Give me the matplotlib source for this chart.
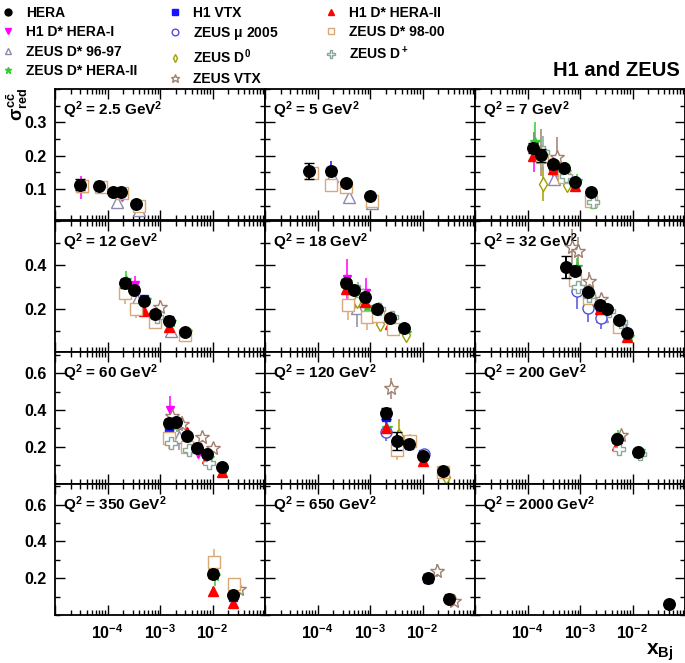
import numpy as np
import matplotlib.pyplot as plt
from matplotlib.lines import Line2D
from matplotlib.ticker import FixedLocator, LogLocator, MultipleLocator, FuncFormatter, NullFormatter

plt.rcParams['font.family'] = ['Liberation Sans', 'DejaVu Sans']
plt.rcParams['font.weight'] = 'bold'
plt.rcParams['mathtext.fontset'] = 'custom'
plt.rcParams['mathtext.rm'] = 'Liberation Sans:bold'
plt.rcParams['mathtext.it'] = 'Liberation Sans:bold'
plt.rcParams['mathtext.bf'] = 'Liberation Sans:bold'
plt.rcParams['mathtext.sf'] = 'Liberation Sans:bold'

# Q2 bins (one panel each) and their labels
q2_bins = [2.5, 5, 7, 12, 18, 32, 60, 120, 200, 350, 650, 2000]
q2_labels = ['2.5', '5', '7', '12', '18', '32', '60', '120', '200', '350', '650', '2000']

# rows: (Q2, x, sigma_red, error)
hera = [
    (2.5, 3e-5, 0.113, 0.017), (2.5, 7e-5, 0.110, 0.008), (2.5, 1.3e-4, 0.092, 0.006),
    (2.5, 1.8e-4, 0.092, 0.006), (2.5, 3.5e-4, 0.055, 0.006),
    (5, 7e-5, 0.153, 0.024), (5, 1.8e-4, 0.153, 0.010), (5, 3.5e-4, 0.117, 0.007), (5, 1e-3, 0.079, 0.005),
    (7, 1.3e-4, 0.223, 0.015), (7, 1.8e-4, 0.201, 0.019), (7, 3e-4, 0.174, 0.010),
    (7, 5e-4, 0.162, 0.009), (7, 8e-4, 0.121, 0.007), (7, 1.6e-3, 0.090, 0.006),
    (12, 2.2e-4, 0.315, 0.020), (12, 3.2e-4, 0.287, 0.015), (12, 5e-4, 0.238, 0.012),
    (12, 8e-4, 0.179, 0.010), (12, 1.5e-3, 0.145, 0.008), (12, 3e-3, 0.097, 0.006),
    (18, 3.5e-4, 0.317, 0.020), (18, 5e-4, 0.286, 0.015), (18, 8e-4, 0.253, 0.012),
    (18, 1.35e-3, 0.198, 0.010), (18, 2.4e-3, 0.161, 0.008), (18, 4.5e-3, 0.112, 0.007),
    (32, 5.5e-4, 0.388, 0.050), (32, 8e-4, 0.373, 0.020), (32, 1.4e-3, 0.277, 0.015),
    (32, 2.4e-3, 0.217, 0.012), (32, 3.2e-3, 0.198, 0.011), (32, 5.5e-3, 0.151, 0.009), (32, 8e-3, 0.091, 0.007),
    (60, 1.5e-3, 0.330, 0.020), (60, 2e-3, 0.333, 0.020), (60, 3.2e-3, 0.260, 0.015),
    (60, 5e-3, 0.193, 0.012), (60, 8e-3, 0.158, 0.010), (60, 1.5e-2, 0.091, 0.007),
    (120, 2e-3, 0.381, 0.030), (120, 3.2e-3, 0.231, 0.048), (120, 5.5e-3, 0.215, 0.015),
    (120, 1e-2, 0.151, 0.010), (120, 2.5e-2, 0.069, 0.006),
    (200, 5e-3, 0.240, 0.020), (200, 1.3e-2, 0.171, 0.012),
    (350, 1e-2, 0.223, 0.020), (350, 2.5e-2, 0.108, 0.010),
    (650, 1.3e-2, 0.202, 0.020), (650, 3.2e-2, 0.088, 0.008),
    (2000, 5e-2, 0.059, 0.008),
]
h1_dstar_hera1 = [
    (2.5, 3.1e-5, 0.105, 0.035), (2.5, 7.3e-5, 0.103, 0.010), (2.5, 1.9e-4, 0.075, 0.012),
    (7, 1.35e-4, 0.210, 0.060), (7, 3.1e-4, 0.150, 0.020), (7, 8.3e-4, 0.105, 0.010),
    (12, 3.3e-4, 0.310, 0.040), (12, 8.3e-4, 0.160, 0.020),
    (18, 3.6e-4, 0.335, 0.090), (18, 8.3e-4, 0.270, 0.070),
    (60, 1.55e-3, 0.400, 0.077), (60, 5.2e-3, 0.160, 0.020),
]
zeus_dstar_9697 = [
    (2.5, 3.2e-5, 0.110, 0.020), (2.5, 1.5e-4, 0.060, 0.010), (2.5, 4e-4, 0.038, 0.008),
    (5, 1.9e-4, 0.140, 0.020), (5, 3.9e-4, 0.075, 0.012), (5, 1.1e-3, 0.058, 0.010),
    (7, 3.2e-4, 0.130, 0.020),
    (12, 3.6e-4, 0.240, 0.040), (12, 1.65e-3, 0.100, 0.015),
    (18, 5.6e-4, 0.206, 0.090),
    (32, 2.6e-3, 0.170, 0.040),
    (60, 2.3e-3, 0.253, 0.070),
    (120, 3.5e-3, 0.230, 0.030),
]
zeus_dstar_hera2 = [
    (7, 1.4e-4, 0.240, 0.060), (7, 5.5e-4, 0.150, 0.030), (7, 8.6e-4, 0.125, 0.020), (7, 1.8e-3, 0.055, 0.015),
    (12, 2.3e-4, 0.330, 0.040), (12, 5.5e-4, 0.240, 0.020), (12, 8.6e-4, 0.160, 0.020),
    (12, 1.6e-3, 0.140, 0.015), (12, 3.2e-3, 0.095, 0.012),
    (18, 3.7e-4, 0.320, 0.030), (18, 8.6e-4, 0.210, 0.020), (18, 1.45e-3, 0.200, 0.020),
    (18, 2.6e-3, 0.160, 0.015), (18, 4.8e-3, 0.090, 0.012),
    (32, 8.6e-4, 0.390, 0.040), (32, 1.5e-3, 0.270, 0.030), (32, 3.4e-3, 0.200, 0.020),
    (32, 5.8e-3, 0.150, 0.015), (32, 8.5e-3, 0.075, 0.010),
    (60, 2.1e-3, 0.320, 0.040), (60, 3.4e-3, 0.250, 0.020), (60, 5.3e-3, 0.190, 0.015),
    (60, 8.5e-3, 0.140, 0.015), (60, 1.6e-2, 0.080, 0.010),
    (120, 2.1e-3, 0.300, 0.040), (120, 3.4e-3, 0.240, 0.050), (120, 1.05e-2, 0.145, 0.020),
    (200, 5.3e-3, 0.250, 0.040), (200, 1.4e-2, 0.175, 0.030),
    (350, 1.1e-2, 0.210, 0.050), (350, 2.7e-2, 0.110, 0.020),
]
h1_vtx = [
    (5, 1.8e-4, 0.155, 0.030),
    (7, 3e-4, 0.170, 0.020), (7, 5e-4, 0.160, 0.020),
    (12, 5e-4, 0.245, 0.020), (12, 1.5e-3, 0.150, 0.015),
    (18, 8e-4, 0.250, 0.020), (18, 1.35e-3, 0.200, 0.020), (18, 2.4e-3, 0.160, 0.020),
    (32, 2.4e-3, 0.210, 0.020), (32, 8e-3, 0.090, 0.010),
    (60, 1.5e-3, 0.300, 0.030), (60, 2e-3, 0.330, 0.030), (60, 5e-3, 0.200, 0.020), (60, 8e-3, 0.160, 0.015),
    (120, 2e-3, 0.360, 0.030), (120, 5.5e-3, 0.210, 0.020), (120, 1e-2, 0.160, 0.020),
    (200, 5e-3, 0.240, 0.020), (200, 1.3e-2, 0.165, 0.015),
    (350, 1e-2, 0.240, 0.020), (350, 2.5e-2, 0.100, 0.012),
    (650, 1.3e-2, 0.195, 0.020), (650, 3.2e-2, 0.090, 0.010),
    (2000, 5e-2, 0.060, 0.010),
]
zeus_mu_2005 = [
    (32, 8.6e-4, 0.280, 0.080), (32, 1.4e-3, 0.203, 0.060), (32, 2.5e-3, 0.160, 0.050), (32, 6e-3, 0.120, 0.030),
    (120, 2e-3, 0.279, 0.050), (120, 1.05e-2, 0.160, 0.030),
]
zeus_d0 = [
    (7, 1.95e-4, 0.115, 0.050), (7, 5.6e-4, 0.113, 0.020),
    (18, 5.6e-4, 0.236, 0.060), (18, 1.55e-3, 0.133, 0.020), (18, 4.8e-3, 0.080, 0.012),
    (120, 3.5e-3, 0.260, 0.090), (120, 2.8e-2, 0.038, 0.010),
]
zeus_vtx = [
    (7, 1.8e-4, 0.210, 0.070), (7, 3.6e-4, 0.195, 0.060),
    (12, 1e-3, 0.210, 0.030),
    (32, 7.1e-4, 0.482, 0.080), (32, 9e-4, 0.464, 0.060), (32, 1.5e-3, 0.327, 0.040), (32, 2.5e-3, 0.244, 0.030),
    (60, 1.7e-3, 0.368, 0.050), (60, 2.6e-3, 0.326, 0.040), (60, 6.2e-3, 0.253, 0.030), (60, 1e-2, 0.195, 0.020),
    (120, 2.5e-3, 0.517, 0.059),
    (200, 6e-3, 0.262, 0.030),
    (350, 3.2e-2, 0.139, 0.030),
    (650, 1.9e-2, 0.240, 0.035), (650, 4e-2, 0.077, 0.025),
]
h1_dstar_hera2 = [
    (7, 1.3e-4, 0.200, 0.020), (7, 3e-4, 0.160, 0.015), (7, 8e-4, 0.110, 0.010),
    (12, 2.2e-4, 0.280, 0.020), (12, 5e-4, 0.190, 0.015), (12, 1.5e-3, 0.120, 0.010), (12, 3e-3, 0.080, 0.008),
    (18, 3.5e-4, 0.290, 0.020), (18, 8e-4, 0.230, 0.020), (18, 1.35e-3, 0.180, 0.015), (18, 2.4e-3, 0.130, 0.012),
    (32, 8e-4, 0.360, 0.030), (32, 1.4e-3, 0.260, 0.020), (32, 2.4e-3, 0.200, 0.015), (32, 8e-3, 0.075, 0.010),
    (60, 3.2e-3, 0.280, 0.020), (60, 8e-3, 0.140, 0.015), (60, 1.5e-2, 0.060, 0.010),
    (120, 2e-3, 0.300, 0.030), (120, 1e-2, 0.120, 0.015),
    (200, 5e-3, 0.210, 0.020),
    (350, 1e-2, 0.130, 0.020), (350, 2.5e-2, 0.065, 0.010),
]
zeus_dstar_9800 = [
    (2.5, 3.3e-5, 0.110, 0.010), (2.5, 7.5e-5, 0.107, 0.010), (2.5, 1.9e-4, 0.088, 0.010), (2.5, 4e-4, 0.048, 0.008),
    (5, 7.8e-5, 0.148, 0.015), (5, 1.8e-4, 0.112, 0.020), (5, 3.5e-4, 0.105, 0.015), (5, 1.1e-3, 0.065, 0.010),
    (7, 1.9e-4, 0.195, 0.030), (7, 5e-4, 0.135, 0.020), (7, 1.6e-3, 0.065, 0.010),
    (12, 2.2e-4, 0.270, 0.050), (12, 3.5e-4, 0.200, 0.040), (12, 8e-4, 0.140, 0.030), (12, 3e-3, 0.080, 0.010),
    (18, 3.8e-4, 0.218, 0.068), (18, 8.6e-4, 0.165, 0.060), (18, 1.4e-3, 0.170, 0.030), (18, 2.7e-3, 0.108, 0.020),
    (32, 8e-4, 0.330, 0.050), (32, 1.5e-3, 0.250, 0.030), (32, 5.5e-3, 0.120, 0.020),
    (60, 1.5e-3, 0.250, 0.060), (60, 3.2e-3, 0.200, 0.030),
    (120, 3.3e-3, 0.180, 0.050), (120, 5.8e-3, 0.230, 0.040), (120, 2.5e-2, 0.060, 0.010),
    (350, 1.05e-2, 0.290, 0.070), (350, 2.6e-2, 0.170, 0.030),
]
zeus_dplus = [
    (7, 2e-4, 0.210, 0.050), (7, 5.5e-4, 0.140, 0.020), (7, 1.8e-3, 0.060, 0.015),
    (12, 8.6e-4, 0.165, 0.020),
    (18, 6e-4, 0.280, 0.040), (18, 1.5e-3, 0.200, 0.030), (18, 2.6e-3, 0.165, 0.020),
    (32, 9e-4, 0.300, 0.040), (32, 1.5e-3, 0.260, 0.030), (32, 3.5e-3, 0.190, 0.020), (32, 6e-3, 0.140, 0.020),
    (60, 1.6e-3, 0.220, 0.040), (60, 3.5e-3, 0.180, 0.030), (60, 8.5e-3, 0.110, 0.020),
    (200, 5.5e-3, 0.190, 0.030), (200, 1.4e-2, 0.160, 0.020),
]

# (label, data, marker, colour, filled, size)
datasets = [
    ('HERA', hera, 'o', 'black', True, 8.3),
    ('H1 D* HERA-I', h1_dstar_hera1, 'v', '#ff00ff', True, 6.3),
    ('ZEUS D* 96-97', zeus_dstar_9697, '^', '#8a8aaa', False, 8),
    ('ZEUS D* HERA-II', zeus_dstar_hera2, '*', '#33cc33', True, 7.5),
    ('H1 VTX', h1_vtx, 's', '#1414ff', True, 6.3),
    ('ZEUS $\\mu$ 2005', zeus_mu_2005, 'o', '#5050e0', False, 8),
    ('ZEUS D$^0$', zeus_d0, 'd', '#a0a000', False, 7),
    ('ZEUS VTX', zeus_vtx, '*', '#a08070', False, 10.5),
    ('H1 D* HERA-II', h1_dstar_hera2, '^', '#ff0000', True, 6.8),
    ('ZEUS D* 98-00', zeus_dstar_9800, 's', '#d9a877', False, 8),
    ('ZEUS D$^+$', zeus_dplus, 'P', '#88a898', False, 8.5),
]

W, H = 685, 663
fig = plt.figure(figsize=(W / 100, H / 100), dpi=100)

panel_w, panel_h = 210, 131.5
x0, y0 = 55, 89
axes = []
for i in range(12):
    r, c = divmod(i, 3)
    left = (x0 + panel_w * c) / W
    bottom = 1 - (y0 + panel_h * (r + 1)) / H
    axes.append(fig.add_axes([left, bottom, panel_w / W, panel_h / H]))

ylims = [(0.005, 0.4), (0.005, 0.6), (0.0, 0.715), (0.0, 0.715)]
ymajor = [[0.1, 0.2, 0.3], [0.2, 0.4], [0.2, 0.4, 0.6], [0.2, 0.4, 0.6]]
yminor = [0.05, 0.1, 0.1, 0.1]

def xfmt(v, pos):
    e = int(round(np.log10(v)))
    if e in (-4, -3, -2):
        return r'$10^{%d}$' % e
    return ''

handles = []
for label, data, marker, color, filled, ms in datasets:
    is_hera = label == 'HERA'
    for i, q2 in enumerate(q2_bins):
        rows = [d for d in data if d[0] == q2]
        if not rows:
            continue
        x = [d[1] for d in rows]
        y = [d[2] for d in rows]
        e = [d[3] for d in rows]
        axes[i].errorbar(x, y, yerr=e, fmt=marker, color=color, ms=ms,
                         mfc=color if filled else 'white', mec=color, mew=1.0,
                         elinewidth=1.4 if is_hera else 1.1, capsize=3.5 if is_hera else 0,
                         capthick=1.4, zorder=10 if is_hera else 3)
    handles.append(Line2D([], [], ls='none', marker=marker, color=color, ms=min(ms * 0.6, 6.5),
                          mfc=color if filled else 'none', mec=color, mew=1.0, label=label))

for i, ax in enumerate(axes):
    r, c = divmod(i, 3)
    ax.set_xscale('log')
    ax.set_xlim(1e-5, 1e-1)
    ax.set_ylim(*ylims[r])
    ax.xaxis.set_major_locator(LogLocator(base=10, numticks=10))
    ax.xaxis.set_minor_locator(LogLocator(base=10, subs=np.arange(2, 10), numticks=20))
    ax.xaxis.set_major_formatter(FuncFormatter(xfmt))
    ax.xaxis.set_minor_formatter(NullFormatter())
    ax.yaxis.set_major_locator(FixedLocator(ymajor[r]))
    ax.yaxis.set_minor_locator(MultipleLocator(yminor[r]))
    ax.tick_params(which='both', direction='in', top=True, right=True, width=1.0,
                   labelsize=11.5, pad=6)
    ax.tick_params(which='major', length=7)
    ax.tick_params(which='minor', length=3.5)
    if c != 0:
        ax.tick_params(labelleft=False)
    if r != 3:
        ax.tick_params(labelbottom=False)
    for s in ax.spines.values():
        s.set_linewidth(1.3)
    ax.text(0.04, 0.92, 'Q$^2$ = %s GeV$^2$' % q2_labels[i], transform=ax.transAxes,
            fontsize=11, fontweight='bold', va='top', ha='left')

# legend in three columns
col_x = [-0.007, 0.237, 0.465]
groups = [handles[0:4], handles[4:8], handles[8:11]]
for gx, grp in zip(col_x, groups):
    fig.legend(handles=grp, loc='upper left', bbox_to_anchor=(gx, 1.0), frameon=False,
               handlelength=1.0, handletextpad=0.8, labelspacing=0.4,
               borderaxespad=0.0, prop={'weight': 'bold', 'size': 10})

fig.text(0.993, 1 - 70 / H, 'H1 and ZEUS', ha='right', va='center', fontsize=14.5, fontweight='bold')
fig.text(0.006, 1 - 104 / H, r'$\sigma^{c\bar{c}}_{red}$', rotation=90, ha='left', va='center', fontsize=13)
fig.text(0.982, 1 - 652 / H, r'$x_{Bj}$', ha='right', va='center', fontsize=15)

fig.savefig('out.png', dpi=100)
